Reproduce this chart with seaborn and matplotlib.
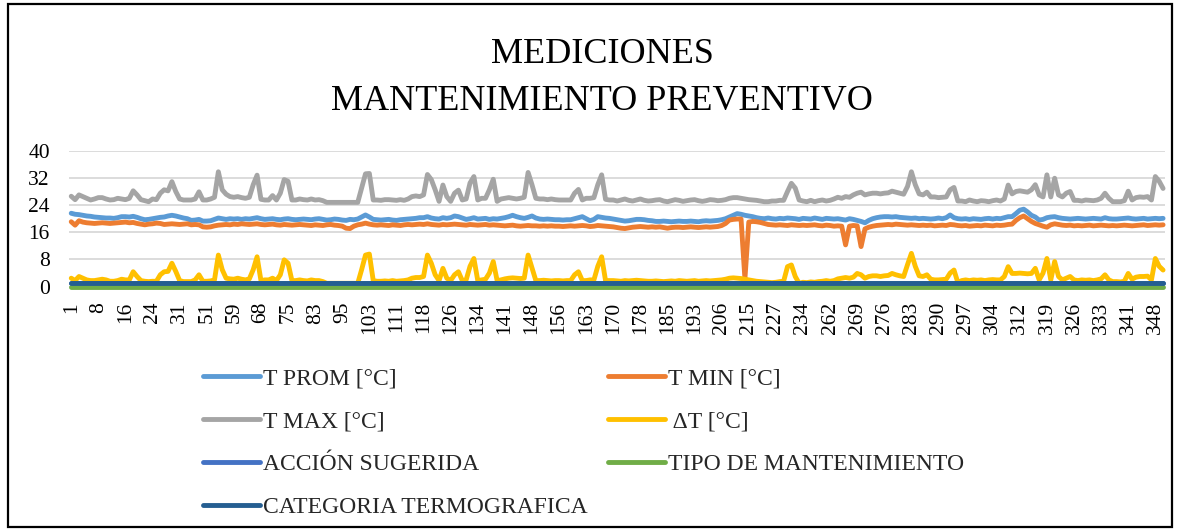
import numpy as np
import pandas as pd
import matplotlib
matplotlib.use("Agg")
import matplotlib.pyplot as plt
import seaborn as sns
from matplotlib.lines import Line2D
from matplotlib.patches import Rectangle

# ---------------- data ----------------
tick_labels = [1, 8, 16, 24, 31, 51, 59, 68, 75, 83, 95, 103, 111, 118, 126, 134,
               141, 148, 156, 163, 170, 178, 185, 193, 206, 215, 227, 234, 262,
               269, 276, 283, 290, 297, 304, 312, 319, 326, 333, 341, 348]

t_max = [
    26.6, 25.6, 27.0, 26.5, 26.0, 25.5, 25.8, 26.2, 26.2, 25.8,
    25.5, 25.6, 26.0, 25.8, 25.6, 26.0, 28.2, 27.0, 25.6, 25.3,
    25.0, 25.8, 25.6, 27.5, 28.5, 28.2, 30.9, 28.0, 25.8, 25.5,
    25.5, 25.5, 25.8, 27.9, 25.5, 25.5, 25.8, 26.3, 33.8, 28.5,
    27.2, 26.5, 26.3, 26.5, 26.2, 26.0, 26.3, 30.0, 32.8, 25.7,
    25.5, 25.5, 26.8, 25.5, 27.5, 31.5, 31.0, 25.5, 25.5, 25.8,
    25.6, 25.5, 25.8, 25.5, 25.6, 25.3, 24.8, 24.8, 24.8, 24.8,
    24.8, 24.8, 24.8, 24.8, 24.8, 29.0, 33.2, 33.3, 25.5, 25.5,
    25.4, 25.6, 25.6, 25.5, 25.4, 25.6, 25.4, 25.8, 26.5, 26.7,
    26.5, 27.0, 33.0, 31.5, 28.5, 25.1, 29.9, 26.5, 25.1, 27.5,
    28.4, 25.5, 25.8, 30.5, 32.4, 25.5, 26.0, 26.0, 28.5, 31.6,
    25.1, 25.8, 26.0, 26.2, 26.0, 25.8, 26.0, 26.3, 33.6, 30.0,
    26.0, 25.8, 25.8, 25.6, 25.8, 25.6, 25.5, 25.5, 25.5, 25.5,
    27.5, 28.6, 25.5, 26.0, 26.0, 26.2, 30.0, 32.9, 25.7, 25.5,
    25.5, 25.2, 25.5, 25.8, 25.4, 25.2, 25.5, 25.8, 25.4, 25.2,
    25.3, 25.5, 25.6, 25.2, 25.0, 25.3, 25.6, 25.4, 25.1, 25.3,
    25.5, 25.6, 25.3, 25.1, 25.3, 25.6, 25.5, 25.3, 25.4, 25.6,
    26.0, 26.2, 26.2, 26.0, 25.8, 25.6, 25.5, 25.4, 25.2, 25.0,
    25.0, 25.2, 25.2, 25.4, 25.4, 28.0, 30.4, 29.0, 25.5, 25.2,
    25.0, 25.4, 25.0, 25.3, 25.5, 25.2, 25.4, 25.8, 26.3, 26.0,
    26.5, 26.3, 27.0, 27.5, 27.8, 27.0, 27.3, 27.5, 27.5, 27.3,
    27.5, 27.6, 28.1, 27.8, 27.5, 27.2, 29.5, 33.8, 30.0, 27.3,
    27.0, 27.8, 26.4, 26.4, 26.2, 26.3, 26.4, 28.5, 29.2, 25.2,
    25.2, 25.0, 25.5, 25.2, 25.0, 25.3, 25.2, 25.0, 25.3, 25.5,
    25.2, 25.8, 29.9, 27.3, 28.0, 28.2, 28.0, 27.8, 28.5, 30.0,
    27.0, 26.4, 32.9, 26.4, 31.9, 27.0, 26.4, 27.5, 28.0, 25.4,
    25.4, 25.2, 25.5, 25.4, 25.3, 25.5, 26.0, 27.5, 26.0, 25.0,
    25.0, 25.0, 25.3, 28.1, 25.5, 26.2, 26.4, 26.3, 26.5, 25.5,
    32.4, 31.0, 28.9]

t_prom = [
    21.6, 21.3, 21.2, 21.0, 20.8, 20.7, 20.5, 20.4, 20.3, 20.2,
    20.2, 20.1, 20.3, 20.6, 20.6, 20.5, 20.7, 20.4, 20.0, 19.7,
    19.8, 20.0, 20.2, 20.4, 20.5, 20.8, 21.0, 20.8, 20.5, 20.2,
    20.0, 19.5, 19.6, 19.8, 19.3, 19.3, 19.4, 19.8, 20.2, 20.0,
    19.8, 20.0, 19.9, 20.0, 19.8, 20.0, 19.9, 20.1, 20.3, 20.0,
    19.8, 19.9, 20.0, 19.8, 19.7, 19.9, 20.0, 19.8, 19.7, 19.8,
    19.9, 19.8, 19.7, 19.9, 20.0, 19.8, 19.6, 19.7, 19.9, 19.8,
    19.6, 19.5, 19.8, 19.7, 19.9, 20.5, 21.1, 20.5, 19.8, 19.7,
    19.6, 19.7, 19.8, 19.6, 19.5, 19.7, 19.8, 19.9, 20.0, 20.1,
    20.3, 20.3, 20.6, 20.2, 20.0, 19.9, 20.3, 20.1, 20.3, 20.8,
    20.6, 20.2, 19.8, 20.0, 20.3, 19.9, 20.0, 20.1, 19.8, 20.0,
    19.9, 20.1, 20.3, 20.6, 21.0, 20.6, 20.3, 20.1, 20.4, 20.8,
    20.2, 19.9, 19.8, 19.9, 19.8, 19.7, 19.7, 19.6, 19.7, 19.7,
    20.0, 20.3, 20.6, 20.0, 19.4, 19.8, 20.6, 20.4, 20.2, 20.1,
    19.9, 19.7, 19.5, 19.3, 19.4, 19.6, 19.8, 19.8, 19.7, 19.5,
    19.4, 19.2, 19.2, 19.3, 19.2, 19.1, 19.2, 19.3, 19.2, 19.2,
    19.3, 19.2, 19.1, 19.3, 19.4, 19.3, 19.4, 19.5, 19.7, 20.0,
    20.5, 21.0, 21.5, 21.3, 21.0, 20.8, 20.6, 20.3, 20.1, 20.0,
    20.2, 20.0, 19.9, 20.1, 20.0, 20.2, 20.1, 20.0, 19.8, 20.1,
    20.0, 19.9, 20.2, 20.0, 19.8, 20.1, 20.0, 19.9, 20.0, 19.8,
    19.6, 20.0, 19.8, 19.5, 19.2, 18.8, 19.5, 20.0, 20.3, 20.5,
    20.6, 20.6, 20.5, 20.6, 20.4, 20.3, 20.2, 20.1, 20.2, 20.0,
    20.1, 20.0, 19.9, 20.0, 20.2, 20.0, 20.3, 21.1, 20.3, 20.0,
    19.9, 20.0, 19.8, 20.0, 19.9, 19.8, 20.0, 20.1, 19.9, 20.1,
    20.0, 20.3, 20.6, 20.6, 21.5, 22.5, 22.8, 22.0, 21.0, 20.5,
    19.6, 19.8, 20.3, 20.5, 20.6, 20.3, 20.1, 20.0, 19.9, 20.0,
    20.1, 20.0, 19.9, 20.0, 20.1, 20.0, 19.9, 20.3, 20.0, 19.9,
    19.9, 20.0, 20.1, 20.2, 20.0, 19.9, 20.0, 20.1, 19.9, 20.0,
    20.1, 20.0, 20.1]

t_min = [
    19.1, 18.1, 19.4, 19.0, 18.8, 18.7, 18.6, 18.7, 18.8, 18.7,
    18.6, 18.7, 18.8, 18.9, 19.0, 18.8, 18.9, 18.6, 18.4, 18.2,
    18.4, 18.5, 18.7, 18.6, 18.3, 18.4, 18.5, 18.4, 18.3, 18.4,
    18.5, 18.2, 18.3, 18.2, 17.6, 17.5, 17.6, 17.9, 18.1, 18.2,
    18.3, 18.2, 18.4, 18.3, 18.5, 18.4, 18.3, 18.4, 18.5, 18.3,
    18.2, 18.3, 18.4, 18.2, 18.1, 18.3, 18.2, 18.1, 18.2, 18.3,
    18.2, 18.1, 18.0, 18.2, 18.1, 18.0, 18.2, 18.3, 18.1, 18.0,
    17.8, 17.2, 17.1, 17.8, 18.2, 18.4, 18.7, 18.4, 18.2, 18.1,
    18.2, 18.1, 18.0, 18.2, 18.1, 18.0, 18.2, 18.3, 18.2, 18.3,
    18.4, 18.3, 18.5, 18.3, 18.2, 18.1, 18.3, 18.2, 18.3, 18.4,
    18.3, 18.2, 18.1, 18.3, 18.2, 18.1, 18.2, 18.3, 18.1, 18.2,
    18.1, 18.0, 17.9, 18.0, 18.1, 17.9, 17.8, 17.9, 18.0, 17.9,
    17.9, 17.8, 17.9, 17.8, 17.9, 17.8, 17.8, 17.7, 17.8, 17.9,
    17.8, 17.9, 18.0, 17.9, 17.7, 17.8, 18.0, 17.9, 17.8, 17.7,
    17.6, 17.4, 17.2, 17.1, 17.3, 17.5, 17.6, 17.7, 17.6, 17.5,
    17.6, 17.5, 17.6, 17.4, 17.2, 17.4, 17.5, 17.5, 17.4, 17.5,
    17.6, 17.5, 17.4, 17.5, 17.6, 17.5, 17.6, 17.7, 18.0, 18.6,
    19.6, 19.8, 19.9, 19.9, 2.3, 19.0, 19.2, 19.1, 18.9, 18.6,
    18.3, 18.2, 18.1, 18.2, 18.1, 18.0, 18.2, 18.1, 18.0, 18.1,
    18.0, 18.1, 18.2, 18.0, 17.9, 18.1, 18.0, 17.8, 17.9, 17.8,
    12.3, 17.8, 18.0, 17.9, 11.8, 17.0, 17.5, 17.8, 18.0, 18.1,
    18.2, 18.3, 18.2, 18.4, 18.3, 18.2, 18.1, 18.2, 18.1, 18.0,
    18.1, 18.0, 18.1, 17.9, 18.0, 18.1, 18.0, 18.3, 18.2, 18.0,
    17.9, 18.0, 17.8, 17.9, 18.0, 17.9, 18.1, 18.0, 17.9, 18.1,
    18.0, 18.1, 18.3, 18.4, 19.5, 20.3, 20.8, 20.0, 19.2, 18.6,
    18.2, 17.8, 17.5, 18.2, 18.5, 18.3, 18.1, 18.0, 18.1, 17.9,
    18.0, 17.9, 18.0, 18.1, 17.9, 18.0, 18.1, 18.0, 17.9, 18.0,
    17.9, 18.0, 18.1, 18.0, 17.9, 18.0, 18.1, 18.2, 18.0, 18.1,
    18.2, 18.1, 18.2]

delta_t = [
    2.5, 1.8, 3.0, 2.5, 2.0, 1.8, 1.8, 2.0, 2.2, 2.0,
    1.6, 1.6, 1.8, 2.2, 2.0, 2.0, 4.4, 3.0, 1.8, 1.6,
    1.5, 1.6, 1.6, 3.5, 4.4, 4.5, 6.9, 4.5, 1.8, 1.5,
    1.5, 1.5, 2.0, 3.5, 1.6, 1.6, 1.7, 2.0, 9.3, 5.0,
    2.5, 2.3, 2.2, 2.5, 2.2, 2.0, 2.3, 5.0, 8.8, 1.8,
    2.0, 2.0, 2.5, 1.8, 3.5, 7.9, 6.9, 1.8, 1.8, 2.0,
    1.8, 1.7, 2.0, 1.8, 1.8, 1.5, 1.0, 1.0, 1.0, 1.0,
    1.0, 1.0, 1.0, 1.0, 1.0, 5.0, 9.3, 9.6, 1.8, 1.6,
    1.6, 1.7, 1.6, 1.8, 1.6, 1.7, 1.8, 2.0, 2.5, 2.7,
    2.7, 3.0, 9.3, 6.9, 3.5, 1.8, 5.4, 2.5, 1.8, 3.5,
    4.4, 1.8, 2.0, 6.0, 8.3, 1.8, 2.0, 2.2, 4.0, 7.4,
    1.8, 2.0, 2.3, 2.5, 2.6, 2.5, 2.4, 2.5, 9.3, 5.5,
    1.8, 1.8, 1.9, 1.8, 1.7, 1.8, 1.8, 1.7, 1.8, 1.8,
    3.5, 4.4, 1.8, 1.8, 2.0, 2.0, 6.0, 8.8, 1.8, 1.8,
    1.8, 1.7, 1.6, 1.8, 1.7, 1.8, 1.9, 1.8, 1.7, 1.6,
    1.6, 1.7, 1.6, 1.5, 1.6, 1.7, 1.6, 1.8, 1.7, 1.6,
    1.7, 1.8, 1.6, 1.7, 1.8, 1.7, 1.8, 1.9, 2.0, 2.2,
    2.5, 2.6, 2.5, 2.4, 2.2, 2.0, 1.8, 1.6, 1.5, 1.4,
    1.3, 1.2, 1.3, 1.5, 1.6, 5.9, 6.4, 3.0, 1.0, 1.3,
    1.2, 1.4, 1.3, 1.5, 1.6, 1.8, 1.6, 1.8, 2.3, 2.5,
    2.7, 2.5, 2.8, 3.9, 3.5, 2.5, 3.0, 3.2, 3.2, 3.0,
    3.2, 3.3, 3.9, 3.5, 3.2, 3.0, 6.5, 9.8, 6.0, 3.2,
    3.0, 3.5, 2.2, 2.0, 2.0, 2.1, 2.2, 4.0, 4.9, 1.2,
    1.8, 2.0, 1.8, 2.0, 1.9, 2.0, 1.8, 2.0, 2.1, 2.0,
    2.0, 3.0, 5.9, 3.9, 3.9, 4.0, 3.9, 3.8, 3.9, 5.4,
    2.0, 4.0, 8.3, 2.0, 7.4, 3.0, 2.0, 2.5, 3.0, 2.0,
    1.8, 2.0, 1.9, 2.0, 1.8, 2.0, 2.3, 3.5, 2.0, 1.5,
    1.5, 1.4, 1.6, 3.9, 2.2, 2.8, 3.0, 3.0, 3.1, 2.0,
    8.3, 6.0, 4.9]

n_points = len(t_max)
accion_sugerida = [1] * n_points
tipo_mantenimiento = [0] * n_points
categoria_termografica = [1] * n_points

series_names = ["T PROM [°C]", "T MIN [°C]", "T MAX [°C]", " ΔT [°C]",
                "ACCIÓN SUGERIDA", "TIPO DE MANTENIMIENTO", "CATEGORIA TERMOGRAFICA"]
series_values = [t_prom, t_min, t_max, delta_t,
                 accion_sugerida, tipo_mantenimiento, categoria_termografica]
series_colors = ["#5B9BD5", "#ED7D31", "#A5A5A5", "#FFC000",
                 "#4472C4", "#70AD47", "#255E91"]

assert all(len(v) == n_points for v in series_values)

# ---------------- plot ----------------
sns.set_theme(style="white")
plt.rcParams['font.family'] = ['Liberation Serif', 'DejaVu Serif']

W, H = 1178, 531
fig = plt.figure(figsize=(W / 100, H / 100), dpi=100)
ax = fig.add_axes([69.3 / W, 1 - 286.7 / H, (1165 - 69.3) / W, 136.0 / H])

idx = np.arange(n_points)
LW = 3.5
for name, vals, col in zip(series_names, series_values, series_colors):
    sns.lineplot(x=idx, y=vals, ax=ax, color=col, linewidth=LW, legend=False,
                 clip_on=False, solid_joinstyle='round', solid_capstyle='round')

ax.set_xlim(-0.5, n_points - 0.5)
ax.set_ylim(0, 40)
ax.set_yticks(np.arange(0, 41, 8))
ax.set_xticks(np.arange(0, n_points, 7))
ax.set_xticklabels([str(t) for t in tick_labels], rotation=90, va='top', ha='center')
ax.yaxis.grid(True, color='#D9D9D9', linewidth=1.3)
ax.xaxis.grid(False)
ax.set_axisbelow(True)
for s in ax.spines.values():
    s.set_visible(False)
ax.tick_params(axis='y', labelsize=15.5, pad=14, length=0, colors='black')
ax.tick_params(axis='x', labelsize=15.5, pad=11, length=0, colors='black')
ax.set_xlabel("")
ax.set_ylabel("")

# title
fig.text(602 / W, 1 - 63 / H, "MEDICIONES", ha='center', va='baseline',
         fontsize=26, color='black')
fig.text(602 / W, 1 - 110 / H, "MANTENIMIENTO PREVENTIVO", ha='center',
         va='baseline', fontsize=26, color='black')

# legend (row-major order like the reference)
handles = {n: Line2D([0], [0], color=c, lw=LW, solid_capstyle='round')
           for n, c in zip(series_names, series_colors)}
order = [0, 2, 4, 6, 1, 3, 5]
fig.legend([handles[series_names[i]] for i in order],
           [series_names[i] for i in order],
           ncol=2, loc='upper left', bbox_to_anchor=(203 / W, 1 - 368 / H),
           frameon=False, fontsize=17, handlelength=2.4, handletextpad=0.15,
           columnspacing=0.85, labelspacing=0.9, borderpad=0, borderaxespad=0)

# chart border
fig.add_artist(Rectangle((8 / W, 4 / H), (1172 - 8) / W, (527 - 4) / H,
                         transform=fig.transFigure, fill=False,
                         edgecolor='black', linewidth=1.6))

fig.savefig("out.png", dpi=100, facecolor='white')
